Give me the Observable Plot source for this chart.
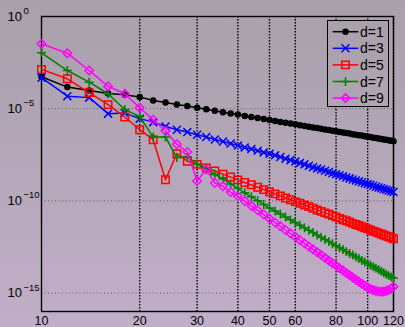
<!DOCTYPE html>
<html><head><meta charset="utf-8">
<script src="https://cdn.jsdelivr.net/npm/d3@7"></script>
<script src="https://cdn.jsdelivr.net/npm/@observablehq/plot@0.6"></script>
<style>
html,body{margin:0;padding:0;}
body{width:405px;height:327px;overflow:hidden;position:relative;
  background:linear-gradient(#a8a0aa,#c1aec8) fixed;
  font-family:"Liberation Sans",Arial,sans-serif;}
#chart svg{display:block;background:transparent;}
#legend{position:absolute;left:327px;top:20px;width:62px;height:87px;box-sizing:border-box;
  border:1px solid #000;background:linear-gradient(#a8a0aa,#c1aec8) fixed;}
</style></head><body>
<div id="chart"></div>
<div id="legend"></div>
<script>
// sample sizes n
const n = [10,12,14,16,18,20,22,24,26,28,30,32,34,36,38,40,42,44,46,48,50,52,54,56,58,60,62,64,66,68,70,72,74,76,78,80,82,84,86,88,90,92,94,96,98,100,102,104,106,108,110,112,114,116,118,120];
// log10 of error
const d1 = [-3.27,-3.83,-4.01,-4.17,-4.24,-4.37,-4.55,-4.67,-4.77,-4.86,-4.95,-5.03,-5.11,-5.19,-5.26,-5.32,-5.39,-5.45,-5.51,-5.56,-5.62,-5.67,-5.72,-5.76,-5.81,-5.85,-5.90,-5.94,-5.98,-6.02,-6.05,-6.09,-6.13,-6.16,-6.19,-6.23,-6.26,-6.29,-6.32,-6.35,-6.38,-6.41,-6.44,-6.46,-6.49,-6.52,-6.54,-6.57,-6.59,-6.62,-6.64,-6.67,-6.69,-6.71,-6.74,-6.76];
const d3v = [-3.32,-4.32,-4.40,-5.27,-5.24,-5.54,-5.73,-5.96,-6.14,-6.27,-6.41,-6.54,-6.67,-6.78,-6.89,-7.00,-7.10,-7.19,-7.28,-7.37,-7.45,-7.53,-7.62,-7.71,-7.79,-7.87,-7.95,-8.02,-8.10,-8.17,-8.24,-8.30,-8.37,-8.43,-8.50,-8.56,-8.61,-8.67,-8.73,-8.78,-8.84,-8.89,-8.94,-8.99,-9.04,-9.09,-9.13,-9.18,-9.23,-9.27,-9.31,-9.36,-9.40,-9.44,-9.48,-9.52];
const d5 = [-2.87,-3.38,-4.13,-4.78,-5.45,-6.14,-6.68,-8.85,-7.44,-7.85,-8.02,-8.21,-8.38,-8.55,-8.71,-8.86,-9.00,-9.13,-9.26,-9.39,-9.51,-9.62,-9.73,-9.84,-9.94,-10.04,-10.13,-10.22,-10.31,-10.40,-10.49,-10.57,-10.65,-10.72,-10.80,-10.87,-10.95,-11.02,-11.08,-11.15,-11.22,-11.28,-11.34,-11.40,-11.46,-11.52,-11.58,-11.64,-11.69,-11.75,-11.80,-11.85,-11.90,-11.95,-12.00,-12.05];
const d7 = [-1.97,-2.93,-3.56,-4.19,-5.04,-5.43,-6.54,-6.54,-7.65,-7.60,-8.00,-8.26,-8.55,-8.82,-9.08,-9.32,-9.56,-9.78,-9.99,-10.20,-10.38,-10.55,-10.71,-10.87,-11.03,-11.17,-11.32,-11.46,-11.59,-11.72,-11.85,-11.97,-12.09,-12.21,-12.32,-12.43,-12.54,-12.64,-12.75,-12.85,-12.94,-13.04,-13.13,-13.23,-13.32,-13.40,-13.49,-13.57,-13.66,-13.74,-13.82,-13.90,-13.98,-14.05,-14.13,-14.20];
const d9 = [-1.48,-1.99,-2.93,-3.79,-4.19,-4.95,-5.60,-6.21,-6.93,-7.35,-8.92,-8.30,-9.03,-9.21,-9.52,-9.75,-10.01,-10.27,-10.51,-10.74,-10.96,-11.17,-11.38,-11.58,-11.77,-11.95,-12.13,-12.30,-12.47,-12.63,-12.79,-12.94,-13.09,-13.24,-13.38,-13.51,-13.65,-13.78,-13.91,-14.03,-14.15,-14.27,-14.39,-14.50,-14.60,-14.70,-14.78,-14.84,-14.88,-14.92,-14.93,-14.92,-14.88,-14.83,-14.75,-14.66];

const seriesNames = ["d=1","d=3","d=5","d=7","d=9"];
const seriesColors = ["#000000","#0000ff","#ff0000","#007f00","#ff00ff"];
const seriesSymbols = ["circle","times","square","plus","diamond2"];
const xTicks = [10,20,30,40,50,60,80,100,120];
const xTickLabels = ["10","20","30","40","50","60","80","100","120"];
const yTicks = [1,1e-5,1e-10,1e-15];
const yExps = ["0","\u22125","\u221210","\u221215"];

const logs = [d1,d3v,d5,d7,d9];
const symR = [2.5,3.7,4.2,3.0,3.8];
const series = seriesNames.map((name,i)=>({
  name, color:seriesColors[i], symbol:seriesSymbols[i], r:symR[i],
  rows:n.map((x,j)=>({n:x, v:Math.pow(10, logs[i][j])}))
}));

const plot = Plot.plot({
  width:405, height:327,
  marginLeft:41, marginRight:12, marginTop:16, marginBottom:16,
  style:{background:"transparent", fontFamily:"'Liberation Sans',Arial,sans-serif", fontSize:"13px", color:"#000"},
  x:{type:"log", domain:[10,120], axis:null},
  y:{type:"log", domain:[1e-16,1], axis:null},
  marks:[
    Plot.gridY(yTicks.slice(1), {stroke:"#5f5761", strokeOpacity:1, strokeDasharray:"1,2.5", strokeWidth:1}),
    Plot.gridX(xTicks.slice(1), {stroke:"#000", strokeOpacity:1, strokeDasharray:"1.5,1.5", strokeWidth:1.4}),
    Plot.text(xTicks, {x:d=>d, text:(d,i)=>xTickLabels[i], frameAnchor:"bottom", lineAnchor:"top", dy:5, fontSize:12.5, fill:"#000"}),
    Plot.text(yTicks, {y:d=>d, text:()=>"10", frameAnchor:"left", textAnchor:"start", dx:-34, fontSize:13, lineAnchor:"middle", fill:"#000"}),
    Plot.text(yTicks, {y:d=>d, text:(d,i)=>yExps[i], frameAnchor:"left", textAnchor:"start", dx:-18, dy:-5.5, fontSize:9.5, lineAnchor:"middle", fill:"#000"}),
    Plot.frame({stroke:"#000", strokeWidth:1.4}),
    ...series.flatMap(s=>[
      Plot.line(s.rows, {x:"n", y:"v", stroke:s.color, strokeWidth:1.5}),
      Plot.dot(s.rows, {x:"n", y:"v", symbol:s.symbol, r:s.r,
        fill: s.symbol==="circle" ? s.color : "none", stroke:s.color, strokeWidth:1.5})
    ])
  ]
});
document.getElementById("chart").appendChild(plot);

// legend
const symMap = {circle:d3.symbolCircle, times:d3.symbolTimes, square:d3.symbolSquare, plus:d3.symbolPlus, diamond2:d3.symbolDiamond2};
const lg = d3.select("#legend").append("svg").attr("width",60).attr("height",85).style("display","block")
  .style("font-family","'Liberation Sans',Arial,sans-serif").style("font-size","14px");
series.forEach((s,i)=>{
  const y = 10.7 + i*16.6;
  const g = lg.append("g").attr("transform",`translate(0,${y})`);
  g.append("line").attr("x1",4.7).attr("x2",30.3).attr("y1",0).attr("y2",0).attr("stroke",s.color).attr("stroke-width",1.5);
  g.append("path").attr("d", d3.symbol(symMap[s.symbol], Math.PI*s.r*s.r)()).attr("transform","translate(17.5,0)")
    .attr("fill", s.symbol==="circle" ? s.color : "none").attr("stroke", s.color).attr("stroke-width",1.5);
  g.append("text").attr("x",32).attr("y",0).attr("dy","0.36em").attr("fill","#000").text(s.name);
});
</script>
</body></html>
